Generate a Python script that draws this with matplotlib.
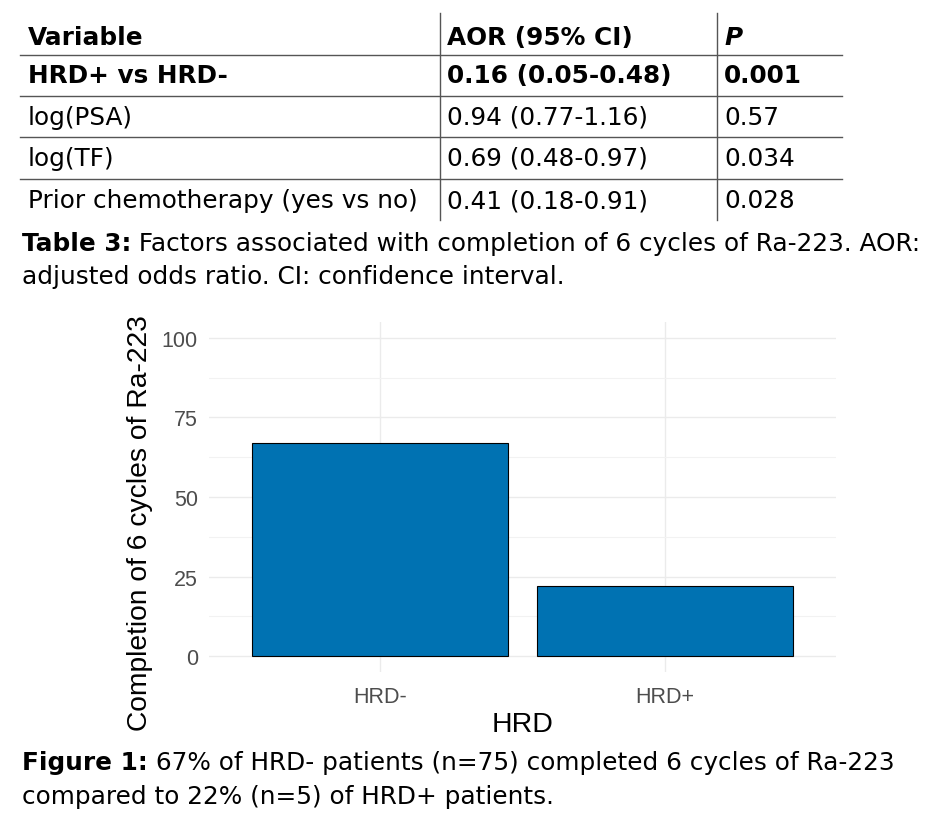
import matplotlib
matplotlib.use("Agg")
import matplotlib.pyplot as plt
from matplotlib.lines import Line2D
from matplotlib.ticker import MultipleLocator

# ---- data ----
table_header = ["Variable", "AOR (95% CI)", "P"]
variables = ["HRD+ vs HRD-", "log(PSA)", "log(TF)", "Prior chemotherapy (yes vs no)"]
aor_ci = ["0.16 (0.05-0.48)", "0.94 (0.77-1.16)", "0.69 (0.48-0.97)", "0.41 (0.18-0.91)"]
p_values = ["0.001", "0.57", "0.034", "0.028"]
bold_rows = [True, False, False, False]

categories = ["HRD-", "HRD+"]
completion = [67, 22]
y_ticks = [0, 25, 50, 75, 100]

W, H = 932, 820
fig = plt.figure(figsize=(W / 100, H / 100), dpi=100)
fig.patch.set_facecolor("white")

TFONT = "DejaVu Sans"
TSIZE = 17.8


def fx(px):
    return px / W


def fy(py):
    return 1 - py / H


def ftext(x, y, s, **kw):
    kw.setdefault("family", TFONT)
    kw.setdefault("fontsize", TSIZE)
    kw.setdefault("va", "center")
    kw.setdefault("ha", "left")
    return fig.text(fx(x), fy(y), s, **kw)


def fline(x0, y0, x1, y1, color="#555555", lw=1.0):
    fig.add_artist(Line2D([fx(x0), fx(x1)], [fy(y0), fy(y1)], color=color, lw=lw,
                          transform=fig.transFigure))


# ---- table ----
col_x = [28, 447, 724]
row_y = [38, 76, 118, 159, 201]
ftext(col_x[0], row_y[0], table_header[0], weight="bold")
ftext(col_x[1], row_y[0], table_header[1], weight="bold")
ftext(col_x[2], row_y[0], table_header[2], weight="bold", style="italic")
for i, (v, a, p) in enumerate(zip(variables, aor_ci, p_values)):
    w = "bold" if bold_rows[i] else "normal"
    y = row_y[i + 1]
    ftext(col_x[0], y, v, weight=w)
    ftext(col_x[1], y, a, weight=w)
    ftext(col_x[2], y, p, weight=w)

for yl in [56, 97, 138, 180]:
    fline(20, yl, 842, yl)
for xl in [440, 717]:
    fline(xl, 14, xl, 221)

renderer = fig.canvas.get_renderer()


def rich_line(x, y, parts):
    for s, w in parts:
        t = ftext(x, y, s, weight=w)
        bb = t.get_window_extent(renderer=renderer)
        x = x + bb.width


rich_line(22, 244, [("Table 3:", "bold"),
                    (" Factors associated with completion of 6 cycles of Ra-223. AOR:", "normal")])
rich_line(22, 277, [("adjusted odds ratio. CI: confidence interval.", "normal")])
rich_line(22, 763, [("Figure 1:", "bold"),
                    (" 67% of HRD- patients (n=75) completed 6 cycles of Ra-223", "normal")])
rich_line(22, 797, [("compared to 22% (n=5) of HRD+ patients.", "normal")])

# ---- bar chart ----
x0_px, x1_px = 209, 836
y_top_px, y_bot_px = 323, 673
ax = fig.add_axes([fx(x0_px), fy(y_bot_px), (x1_px - x0_px) / W, (y_bot_px - y_top_px) / H])
xpos = list(range(1, len(categories) + 1))
ax.bar(xpos, completion, width=0.9, color="#0072B2", edgecolor="black", linewidth=0.8, zorder=3)
ax.set_xlim(0.4, 2.6)
ax.set_ylim(-5, 105)
ax.set_yticks(y_ticks)
ax.yaxis.set_minor_locator(MultipleLocator(12.5))
ax.set_xticks(xpos)
ax.set_xticklabels(categories)
for s in ax.spines.values():
    s.set_visible(False)
ax.grid(True, which="major", color="#ebebeb", lw=1.0, zorder=0)
ax.grid(True, which="minor", axis="y", color="#f2f2f2", lw=0.8, zorder=0)
ax.tick_params(which="both", length=0)
ax.tick_params(axis="y", labelsize=15.5, labelcolor="#4d4d4d", pad=8)
ax.tick_params(axis="x", labelsize=15.5, labelcolor="#4d4d4d", pad=10)
for lab in ax.get_xticklabels() + ax.get_yticklabels():
    lab.set_family("Liberation Sans")
ax.set_xlabel("HRD", fontsize=20.5, family="Liberation Sans", labelpad=3)
fig.text(fx(140), fy(523), "Completion of 6 cycles of Ra-223", rotation=90,
         fontsize=20.3, family="Liberation Sans", ha="center", va="center")

fig.savefig("out.png", dpi=100, facecolor="white")
